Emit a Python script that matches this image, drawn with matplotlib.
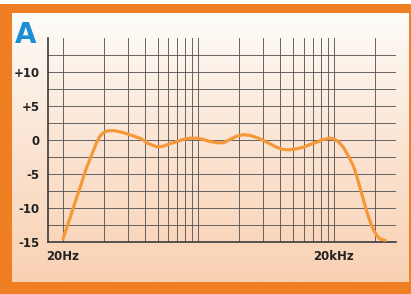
import numpy as np
import matplotlib.pyplot as plt
from matplotlib.colors import LinearSegmentedColormap
from matplotlib.patches import Rectangle

# posiciones en la rejilla logaritmica (1 = 20Hz, 100 = 20kHz)
freq = [1.0, 1.058, 1.121, 1.185, 1.254, 1.328, 1.405, 1.486, 1.574, 1.665,
        1.761, 1.866, 1.973, 2.148, 2.407, 2.694, 3.018, 3.382, 3.784, 4.24,
        4.915, 5.498, 6.162, 6.905, 7.724, 8.655, 9.698, 10.85, 12.16, 13.62,
        15.24, 17.08, 19.14, 21.41, 23.99, 26.89, 30.08, 33.71, 37.77, 42.24,
        47.34, 53.05, 59.35, 66.52, 74.54, 83.37, 93.43, 98.8, 107.6, 117.1,
        127.5, 138.8, 147.1, 155.6, 164.5, 174.3, 184.4, 195.0, 206.6, 218.5,
        237.9]
nivel = [-14.55, -13.07, -11.59, -10.1, -8.62, -7.14, -5.66, -4.18, -2.93, -1.7,
         -0.47, 0.52, 1.01, 1.36, 1.36, 1.16, 0.86, 0.52, 0.18, -0.52,
         -1.0, -0.92, -0.56, -0.22, 0.07, 0.27, 0.27, 0.07, -0.22, -0.41,
         -0.41, 0.07, 0.56, 0.77, 0.67, 0.37, -0.07, -0.56, -1.07, -1.41,
         -1.45, -1.3, -1.07, -0.67, -0.33, 0.07, 0.27, 0.18, -0.22, -1.07,
         -2.3, -3.78, -5.26, -7.0, -8.71, -10.44, -11.93, -13.16, -14.04, -14.55,
         -14.74]

lineas_v = [1, 2, 3, 4, 5, 6, 7, 8, 9, 10, 20, 30, 40, 50, 60, 70, 80, 90, 100, 200]
lineas_h = [-12.5, -10, -7.5, -5, -2.5, 0, 2.5, 5, 7.5, 10, 12.5]
ticks_y = [10, 5, 0, -5, -10, -15]
etiquetas_y = ["+10", "+5", "0", "-5", "-10", "-15"]
ticks_x = [1, 100]
etiquetas_x = ["20Hz", "20kHz"]

naranja = "#f07e22"
fuente = ["Liberation Sans Narrow", "DejaVu Sans"]

fig = plt.figure(figsize=(4.11, 2.94), dpi=100, facecolor=naranja)
fig.patches.append(Rectangle((0, 0.987), 1, 0.013, transform=fig.transFigure,
                             facecolor="white", edgecolor="none"))

# panel con degradado
fondo = fig.add_axes([0.029, 0.041, 0.964, 0.915], zorder=0)
grad = np.linspace(0, 1, 256).reshape(-1, 1)
cmap = LinearSegmentedColormap.from_list("g", ["#fdfcf9", "#fbe4d2", "#f9d1b3"])
fondo.imshow(grad, aspect="auto", cmap=cmap, extent=[0, 1, 0, 1], origin="upper")
fondo.axis("off")

ax = fig.add_axes([0.1168, 0.1769, 0.8467, 0.694], zorder=1)
ax.patch.set_alpha(0)
ax.set_xscale("log")
ax.set_xlim(0.775, 287)
ax.set_ylim(-15, 15)

for v in lineas_v:
    ax.axvline(v, color="#5a5a5a", lw=0.65, zorder=1)
for h in lineas_h:
    ax.axhline(h, color="#5a5a5a", lw=0.65, zorder=1)

ax.plot(freq, nivel, color="#f5983a", lw=2.3, solid_capstyle="round",
        solid_joinstyle="round", zorder=3)

for s in ["top", "right"]:
    ax.spines[s].set_visible(False)
for s in ["left", "bottom"]:
    ax.spines[s].set_color("#3a3a3a")
    ax.spines[s].set_linewidth(1.2)

ax.minorticks_off()
ax.set_yticks(ticks_y)
ax.set_yticklabels(etiquetas_y, family=fuente, fontweight="bold", fontsize=8.5, color="#222222")
ax.set_xticks(ticks_x)
ax.set_xticklabels(etiquetas_x, family=fuente, fontweight="bold", fontsize=8.5, color="#222222")
ax.tick_params(length=0)
ax.tick_params(axis="y", pad=6)
ax.tick_params(axis="x", pad=6)

fig.text(0.036, 0.853, "A", color="#1b8fd6", fontsize=20, fontweight="bold",
         family=fuente, ha="left", va="baseline")

fig.savefig("out.png", dpi=100, facecolor=naranja)
